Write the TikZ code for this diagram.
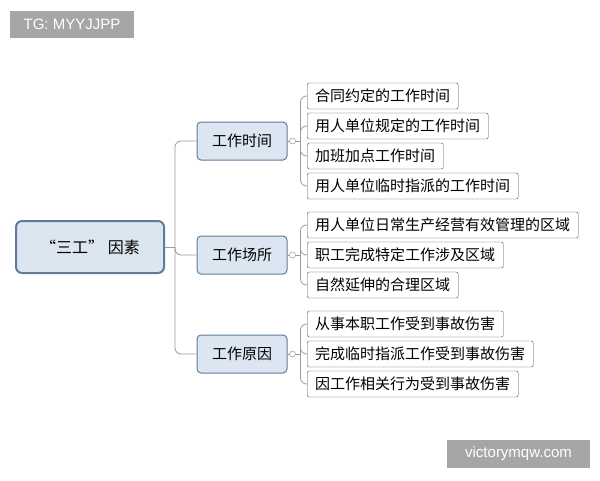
\documentclass[tikz,border=0pt]{standalone}
\usepackage{fontspec}
\setmainfont{Noto Sans CJK SC}
\newfontfamily\latinfont{Liberation Sans}
\definecolor{boxline}{HTML}{5F7C99}
\definecolor{boxfill}{HTML}{DCE6F1}
\definecolor{linegray}{HTML}{9A9A9A}
\definecolor{tagfill}{HTML}{A6A6A6}
\def\leaf#1#2#3{\node[leafbox] (#1) at (307, #2) {#3};}
\def\branch#1#2#3{\node[branchbox] (#1) at (242, #2) {#3};}
\begin{document}
\begin{tikzpicture}[x=1pt, y=-1pt,
    leafbox/.style={draw=black!70, fill=white, rounded corners=2pt, anchor=west,
        minimum height=26pt, inner xsep=8pt, font=\fontsize{15}{17}\selectfont},
    branchbox/.style={draw=boxline, fill=boxfill, rounded corners=4pt, line width=1pt,
        minimum height=38pt, minimum width=90pt, font=\fontsize{15}{17}\selectfont},
    conn/.style={draw=linegray, line width=0.8pt, rounded corners=6pt},
    tag/.style={fill=tagfill, text=white, inner sep=0pt, font=\latinfont\fontsize{15}{17}\selectfont},
    ]
    \useasboundingbox (0,0) rectangle (600,480);
    \node[tag, minimum width=124pt, minimum height=27pt] (tg) at (72, 24.5) {TG: MYYJJPP};
    \node[tag, minimum width=143pt, minimum height=28pt] (site) at (518.5, 454) {victorymqw.com};
    % root
    \node[draw=boxline, fill=boxfill, rounded corners=6pt, line width=2pt,
        minimum width=148pt, minimum height=52pt, font=\fontsize{16}{18}\selectfont] (root) at (90, 247) {“三工” 因素};
    \branch{time}{141}{工作时间}
    \branch{place}{255}{工作场所}
    \branch{cause}{354}{工作原因}
    \coordinate (trunk) at (175, 247);
    \draw[conn] (root.east) -- (trunk);
    \draw[conn] (trunk) |- (time.west);
    \draw[conn] (trunk) |- (cause.west);
    \draw[conn] (trunk) |- (place.west);
    % leaves
    \leaf{t1}{96}{合同约定的工作时间}
    \leaf{t2}{126}{用人单位规定的工作时间}
    \leaf{t3}{156}{加班加点工作时间}
    \leaf{t4}{186}{用人单位临时指派的工作时间}
    \leaf{p1}{225}{用人单位日常生产经营有效管理的区域}
    \leaf{p2}{255}{职工完成特定工作涉及区域}
    \leaf{p3}{285}{自然延伸的合理区域}
    \leaf{c1}{324}{从事本职工作受到事故伤害}
    \leaf{c2}{354}{完成临时指派工作受到事故伤害}
    \leaf{c3}{384}{因工作相关行为受到事故伤害}
    \foreach \b/\list in {time/{t1,t2,t3,t4}, place/{p1,p2,p3}, cause/{c1,c2,c3}} {
        \coordinate (\b fork) at ([xshift=13pt]\b.east);
        \draw[conn] (\b.east) -- (\b fork);
        \foreach \l in \list {
            \draw[conn] (\b fork) |- (\l.west);
        }
        \draw[linegray, fill=white, line width=0.5pt] ([xshift=5pt]\b.east) circle (3pt);
    }
\end{tikzpicture}
\end{document}
